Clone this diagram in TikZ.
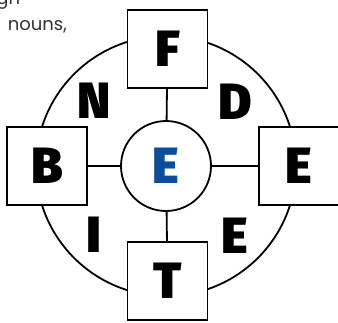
\documentclass[tikz,border=0pt]{standalone}
\usepackage{fontspec}
\setmainfont{Poppins}
\newfontfamily\heavyfont{Fira Sans}[UprightFont={* Black}, BoldFont={* Black}]
\usepackage{tikz}
\usetikzlibrary{positioning}
\usepackage{xcolor}
\definecolor{hubblue}{HTML}{0B4F9C}
\definecolor{textgray}{HTML}{333333}

\begin{document}
\begin{tikzpicture}[x=1pt, y=-1pt, line width=1.8pt,
    letterbox/.style={draw, fill=white, minimum width=80pt, minimum height=78pt, inner sep=0pt, font=\fontsize{51}{51}\heavyfont},
    ringletter/.style={inner sep=0pt, font=\fontsize{51}{51}\heavyfont},
    bodytext/.style={inner sep=0pt, text=textgray, font=\fontsize{18}{18}\selectfont}]
        \clip (0,0) rectangle (338,322);

        % Running text, cut off by the frame
        \node[bodytext, anchor=base east] (lineA) at (21,4) {gh};
        \node[bodytext, anchor=base west] (lineB) at (7,30) {nouns,};

        % Outer ring
        \draw (166,166) circle (130pt);

        % Hub
        \node[circle, draw, fill=white, minimum size=90pt, inner sep=0pt, text=hubblue,
              font=\fontsize{51}{51}\heavyfont] (hub) at (166,166) {E};

        % Boxes on the ring
        \node[letterbox] (top)    at (167.5,49)  {F};
        \node[letterbox] (left)   at (47,166)    {B};
        \node[letterbox] (right)  at (299,166)   {E};
        \node[letterbox] (bottom) at (167.5,281) {T};

        % Letters between the boxes
        \node[ringletter] (nw) at (94,101)  {N};
        \node[ringletter] (ne) at (235,102) {D};
        \node[ringletter] (sw) at (94,235)  {I};
        \node[ringletter] (se) at (235,236) {E};

        % Spokes
        \draw (hub)--(top);
        \draw (hub)--(left);
        \draw (hub)--(right);
        \draw (hub)--(bottom);
    \end{tikzpicture}
\end{document}
